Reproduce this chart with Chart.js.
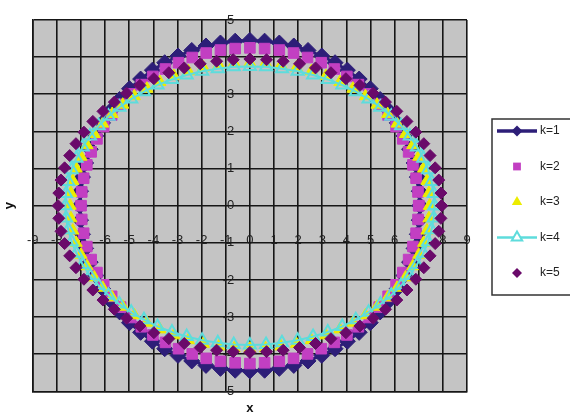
<!DOCTYPE html>
<html><head><meta charset="utf-8">
<script src="https://cdn.jsdelivr.net/npm/chart.js@4/dist/chart.umd.min.js"></script>
<style>html,body{margin:0;padding:0;background:#fff;}canvas{display:block;}</style>
</head><body>
<canvas id="c" width="570" height="417"></canvas>
<script>
// ---- data ----
const seriesLabels = ['k=1', 'k=2', 'k=3', 'k=4', 'k=5'];
const xTickValues = [-9,-8,-7,-6,-5,-4,-3,-2,-1,0,1,2,3,4,5,6,7,8,9];
const yTickValues = [-5,-4,-3,-2,-1,0,1,2,3,4,5];

const k1X = [7.05,7.02,6.94,6.81,6.62,6.39,6.11,5.78,5.40,4.99,4.53,4.04,3.53,2.98,2.41,1.82,1.22,0.61,0,
 -0.61,-1.22,-1.82,-2.41,-2.98,-3.53,-4.04,-4.53,-4.99,-5.40,-5.78,-6.11,-6.39,-6.62,-6.81,-6.94,-7.02,-7.05,
 -7.02,-6.94,-6.81,-6.62,-6.39,-6.11,-5.78,-5.40,-4.99,-4.53,-4.04,-3.53,-2.98,-2.41,-1.82,-1.22,-0.61,0,
 0.61,1.22,1.82,2.41,2.98,3.53,4.04,4.53,4.99,5.40,5.78,6.11,6.39,6.62,6.81,6.94,7.02,7.05];
const k1Y = [0,0.39,0.77,1.15,1.52,1.88,2.23,2.55,2.86,3.15,3.41,3.65,3.85,4.03,4.18,4.30,4.38,4.43,4.45,
 4.43,4.38,4.30,4.18,4.03,3.85,3.65,3.41,3.15,2.86,2.55,2.23,1.88,1.52,1.15,0.77,0.39,0,
 -0.39,-0.77,-1.15,-1.52,-1.88,-2.23,-2.55,-2.86,-3.15,-3.41,-3.65,-3.85,-4.03,-4.18,-4.30,-4.38,-4.43,-4.45,
 -4.43,-4.38,-4.30,-4.18,-4.03,-3.85,-3.65,-3.41,-3.15,-2.86,-2.55,-2.23,-1.88,-1.52,-1.15,-0.77,-0.39,0];

const k2X = [7.00,6.97,6.89,6.76,6.58,6.34,6.06,5.73,5.36,4.95,4.50,4.02,3.50,2.96,2.39,1.81,1.22,0.61,0,
 -0.61,-1.22,-1.81,-2.39,-2.96,-3.50,-4.02,-4.50,-4.95,-5.36,-5.73,-6.06,-6.34,-6.58,-6.76,-6.89,-6.97,-7.00,
 -6.97,-6.89,-6.76,-6.58,-6.34,-6.06,-5.73,-5.36,-4.95,-4.50,-4.02,-3.50,-2.96,-2.39,-1.81,-1.22,-0.61,0,
 0.61,1.22,1.81,2.39,2.96,3.50,4.02,4.50,4.95,5.36,5.73,6.06,6.34,6.58,6.76,6.89,6.97,7.00];
const k2Y = [0,0.37,0.74,1.10,1.45,1.80,2.13,2.44,2.73,3.01,3.26,3.48,3.68,3.85,3.99,4.11,4.19,4.23,4.25,
 4.23,4.19,4.11,3.99,3.85,3.68,3.48,3.26,3.01,2.73,2.44,2.13,1.80,1.45,1.10,0.74,0.37,0,
 -0.37,-0.74,-1.10,-1.45,-1.80,-2.13,-2.44,-2.73,-3.01,-3.26,-3.48,-3.68,-3.85,-3.99,-4.11,-4.19,-4.23,-4.25,
 -4.23,-4.19,-4.11,-3.99,-3.85,-3.68,-3.48,-3.26,-3.01,-2.73,-2.44,-2.13,-1.80,-1.45,-1.10,-0.74,-0.37,0];

const k3X = [7.45,7.42,7.34,7.20,7.00,6.75,6.45,6.10,5.71,5.27,4.79,4.27,3.73,3.15,2.55,1.93,1.29,0.65,0,
 -0.65,-1.29,-1.93,-2.55,-3.15,-3.73,-4.27,-4.79,-5.27,-5.71,-6.10,-6.45,-6.75,-7.00,-7.20,-7.34,-7.42,-7.45,
 -7.42,-7.34,-7.20,-7.00,-6.75,-6.45,-6.10,-5.71,-5.27,-4.79,-4.27,-3.73,-3.15,-2.55,-1.93,-1.29,-0.65,0,
 0.65,1.29,1.93,2.55,3.15,3.73,4.27,4.79,5.27,5.71,6.10,6.45,6.75,7.00,7.20,7.34,7.42,7.45];
const k3Y = [0,0.34,0.67,1.00,1.32,1.63,1.93,2.21,2.47,2.72,2.95,3.15,3.33,3.49,3.62,3.72,3.79,3.84,3.85,
 3.84,3.79,3.72,3.62,3.49,3.33,3.15,2.95,2.72,2.47,2.21,1.93,1.63,1.32,1.00,0.67,0.34,0,
 -0.34,-0.67,-1.00,-1.32,-1.63,-1.93,-2.21,-2.47,-2.72,-2.95,-3.15,-3.33,-3.49,-3.62,-3.72,-3.79,-3.84,-3.85,
 -3.84,-3.79,-3.72,-3.62,-3.49,-3.33,-3.15,-2.95,-2.72,-2.47,-2.21,-1.93,-1.63,-1.32,-1.00,-0.67,-0.34,0];

const k4X = [7.65,7.62,7.53,7.39,7.19,6.93,6.63,6.27,5.86,5.41,4.92,4.39,3.83,3.23,2.62,1.98,1.33,0.67,0,
 -0.67,-1.33,-1.98,-2.62,-3.23,-3.83,-4.39,-4.92,-5.41,-5.86,-6.27,-6.63,-6.93,-7.19,-7.39,-7.53,-7.62,-7.65,
 -7.62,-7.53,-7.39,-7.19,-6.93,-6.63,-6.27,-5.86,-5.41,-4.92,-4.39,-3.83,-3.23,-2.62,-1.98,-1.33,-0.67,0,
 0.67,1.33,1.98,2.62,3.23,3.83,4.39,4.92,5.41,5.86,6.27,6.63,6.93,7.19,7.39,7.53,7.62,7.65];
const k4Y = [0,0.33,0.65,0.97,1.28,1.58,1.88,2.15,2.41,2.65,2.87,3.07,3.25,3.40,3.52,3.62,3.69,3.74,3.75,
 3.74,3.69,3.62,3.52,3.40,3.25,3.07,2.87,2.65,2.41,2.15,1.88,1.58,1.28,0.97,0.65,0.33,0,
 -0.33,-0.65,-0.97,-1.28,-1.58,-1.88,-2.15,-2.41,-2.65,-2.87,-3.07,-3.25,-3.40,-3.52,-3.62,-3.69,-3.74,-3.75,
 -3.74,-3.69,-3.62,-3.52,-3.40,-3.25,-3.07,-2.87,-2.65,-2.41,-2.15,-1.88,-1.58,-1.28,-0.97,-0.65,-0.33,0];

const k5X = [7.95,7.92,7.83,7.68,7.47,7.21,6.88,6.51,6.09,5.62,5.11,4.56,3.98,3.36,2.72,2.06,1.38,0.69,0,
 -0.69,-1.38,-2.06,-2.72,-3.36,-3.98,-4.56,-5.11,-5.62,-6.09,-6.51,-6.88,-7.21,-7.47,-7.68,-7.83,-7.92,-7.95,
 -7.92,-7.83,-7.68,-7.47,-7.21,-6.88,-6.51,-6.09,-5.62,-5.11,-4.56,-3.98,-3.36,-2.72,-2.06,-1.38,-0.69,0,
 0.69,1.38,2.06,2.72,3.36,3.98,4.56,5.11,5.62,6.09,6.51,6.88,7.21,7.47,7.68,7.83,7.92,7.95];
const k5Y = [0,0.34,0.69,1.02,1.35,1.67,1.98,2.27,2.54,2.79,3.03,3.24,3.42,3.58,3.71,3.82,3.89,3.93,3.95,
 3.93,3.89,3.82,3.71,3.58,3.42,3.24,3.03,2.79,2.54,2.27,1.98,1.67,1.35,1.02,0.69,0.34,0,
 -0.34,-0.69,-1.02,-1.35,-1.67,-1.98,-2.27,-2.54,-2.79,-3.03,-3.24,-3.42,-3.58,-3.71,-3.82,-3.89,-3.93,-3.95,
 -3.93,-3.89,-3.82,-3.71,-3.58,-3.42,-3.24,-3.03,-2.79,-2.54,-2.27,-1.98,-1.67,-1.35,-1.02,-0.69,-0.34,0];

// ---- styles ----
const FONT = '"Liberation Sans", Arial, sans-serif';
const seriesStyles = [
  {color:'#2d1e78', point:'rectRot', r:8, line:true, lw:3, hollow:false, lr:5.5},
  {color:'#c23fc2', point:'rect', r:7.5, line:false, lw:0, hollow:false, lr:5.5},
  {color:'#ecec00', point:'triangle', r:7, line:false, lw:0, hollow:false, lr:6},
  {color:'#5edcdc', point:'triangle', r:7, line:true, lw:2, hollow:true, lr:6},
  {color:'#6a0a6a', point:'rectRot', r:6, line:false, lw:0, hollow:false, lr:5}
];
const seriesX = [k1X, k2X, k3X, k4X, k5X];
const seriesY = [k1Y, k2Y, k3Y, k4Y, k5Y];

const datasets = seriesLabels.map((lab, i) => {
  const s = seriesStyles[i];
  return {
    label: lab,
    data: seriesX[i].map((x, j) => ({x: x, y: seriesY[i][j]})),
    showLine: s.line,
    borderColor: s.color,
    borderWidth: s.lw,
    backgroundColor: s.color,
    pointStyle: s.point,
    pointRadius: s.r,
    pointHoverRadius: s.r,
    pointBackgroundColor: s.hollow ? 'rgba(0,0,0,0)' : s.color,
    pointBorderColor: s.color,
    pointBorderWidth: s.hollow ? 2 : 1,
    tension: 0,
    order: 5 - i
  };
});

const plotBg = {
  id: 'plotBg',
  beforeDraw(chart) {
    const {ctx, chartArea: a} = chart;
    ctx.save();
    ctx.fillStyle = '#ffffff';
    ctx.fillRect(0, 0, chart.width, chart.height);
    ctx.fillStyle = '#c4c4c4';
    ctx.fillRect(a.left, a.top, a.right - a.left, a.bottom - a.top);
    ctx.restore();
  }
};

function legendShape(ctx, st, x, y, r) {
  ctx.beginPath();
  if (st === 'rectRot') {
    ctx.moveTo(x, y - r); ctx.lineTo(x + r, y); ctx.lineTo(x, y + r); ctx.lineTo(x - r, y);
  } else if (st === 'rect') {
    const h = r * Math.SQRT1_2; ctx.rect(x - h, y - h, 2 * h, 2 * h);
  } else {
    const h = r; ctx.moveTo(x, y - h); ctx.lineTo(x + h * 0.866, y + h * 0.5); ctx.lineTo(x - h * 0.866, y + h * 0.5);
  }
  ctx.closePath();
}

const legendBox = {x: 492, y: 119, w: 95, h: 176, first: 131, step: 35.5, symX: 517, half: 20, textX: 540};
const customLegend = {
  id: 'customLegend',
  afterDraw(chart) {
    const ctx = chart.ctx;
    const L = legendBox;
    ctx.save();
    ctx.fillStyle = '#ffffff';
    ctx.fillRect(L.x, L.y, L.w, L.h);
    ctx.strokeStyle = '#333';
    ctx.lineWidth = 1.5;
    ctx.strokeRect(L.x, L.y, L.w, L.h);
    chart.data.datasets.forEach((ds, i) => {
      const s = seriesStyles[i];
      const y = L.first + i * L.step;
      if (s.line) {
        ctx.strokeStyle = s.color; ctx.lineWidth = s.lw + 0.5;
        ctx.beginPath(); ctx.moveTo(L.symX - L.half, y); ctx.lineTo(L.symX + L.half, y); ctx.stroke();
      }
      legendShape(ctx, s.point, L.symX, y, s.lr);
      if (s.hollow) {
        ctx.fillStyle = '#ffffff'; ctx.fill();
        ctx.strokeStyle = s.color; ctx.lineWidth = 2; ctx.stroke();
      } else {
        ctx.fillStyle = s.color; ctx.fill();
      }
      ctx.fillStyle = '#222';
      ctx.font = '12px ' + FONT;
      ctx.textAlign = 'left'; ctx.textBaseline = 'middle';
      ctx.fillText(ds.label, L.textX, y);
    });
    ctx.restore();
  }
};

const tickFont = {family: FONT, size: 13};
const gridColor = '#161616';

new Chart(document.getElementById('c'), {
  type: 'scatter',
  data: {datasets},
  options: {
    responsive: false,
    animation: false,
    devicePixelRatio: 1,
    layout: {padding: {left: 1, right: 103, top: 20, bottom: 0}},
    plugins: {legend: {display: false}, tooltip: {enabled: false}},
    scales: {
      x: {
        type: 'linear', position: 'bottom', min: -9, max: 9,
        afterBuildTicks: s => { s.ticks = xTickValues.map(v => ({value: v})); },
        grid: {color: gridColor, lineWidth: 1.6, drawTicks: false},
        border: {display: true, color: gridColor, width: 1.6},
        ticks: {display: false},
        title: {display: true, text: 'x', color: '#111', font: {family: FONT, size: 13, weight: 'bold'}, padding: {top: 9, bottom: 1}}
      },
      y: {
        type: 'linear', position: 'left', min: -5, max: 5,
        afterBuildTicks: s => { s.ticks = yTickValues.map(v => ({value: v})); },
        grid: {color: gridColor, lineWidth: 1.6, drawTicks: false},
        border: {display: true, color: gridColor, width: 1.6},
        ticks: {display: false},
        title: {display: true, text: 'y', color: '#111', font: {family: FONT, size: 13, weight: 'bold'}, padding: {top: 0, bottom: 16}}
      },
      xc: {
        type: 'linear', axis: 'x', position: {y: 0}, min: -9, max: 9,
        afterBuildTicks: s => { s.ticks = xTickValues.map(v => ({value: v})); },
        grid: {display: false, drawTicks: false},
        border: {display: false},
        ticks: {padding: 27, font: tickFont, color: '#222', autoSkip: false, maxRotation: 0, callback: v => String(v)}
      },
      yc: {
        type: 'linear', axis: 'y', position: {x: -0.65}, min: -5, max: 5,
        afterBuildTicks: s => { s.ticks = yTickValues.map(v => ({value: v})); },
        grid: {display: false, drawTicks: false},
        border: {display: false},
        ticks: {padding: 0, font: tickFont, color: '#222', autoSkip: false, callback: v => String(v)}
      }
    }
  },
  plugins: [plotBg, customLegend]
});
</script>
</body></html>
